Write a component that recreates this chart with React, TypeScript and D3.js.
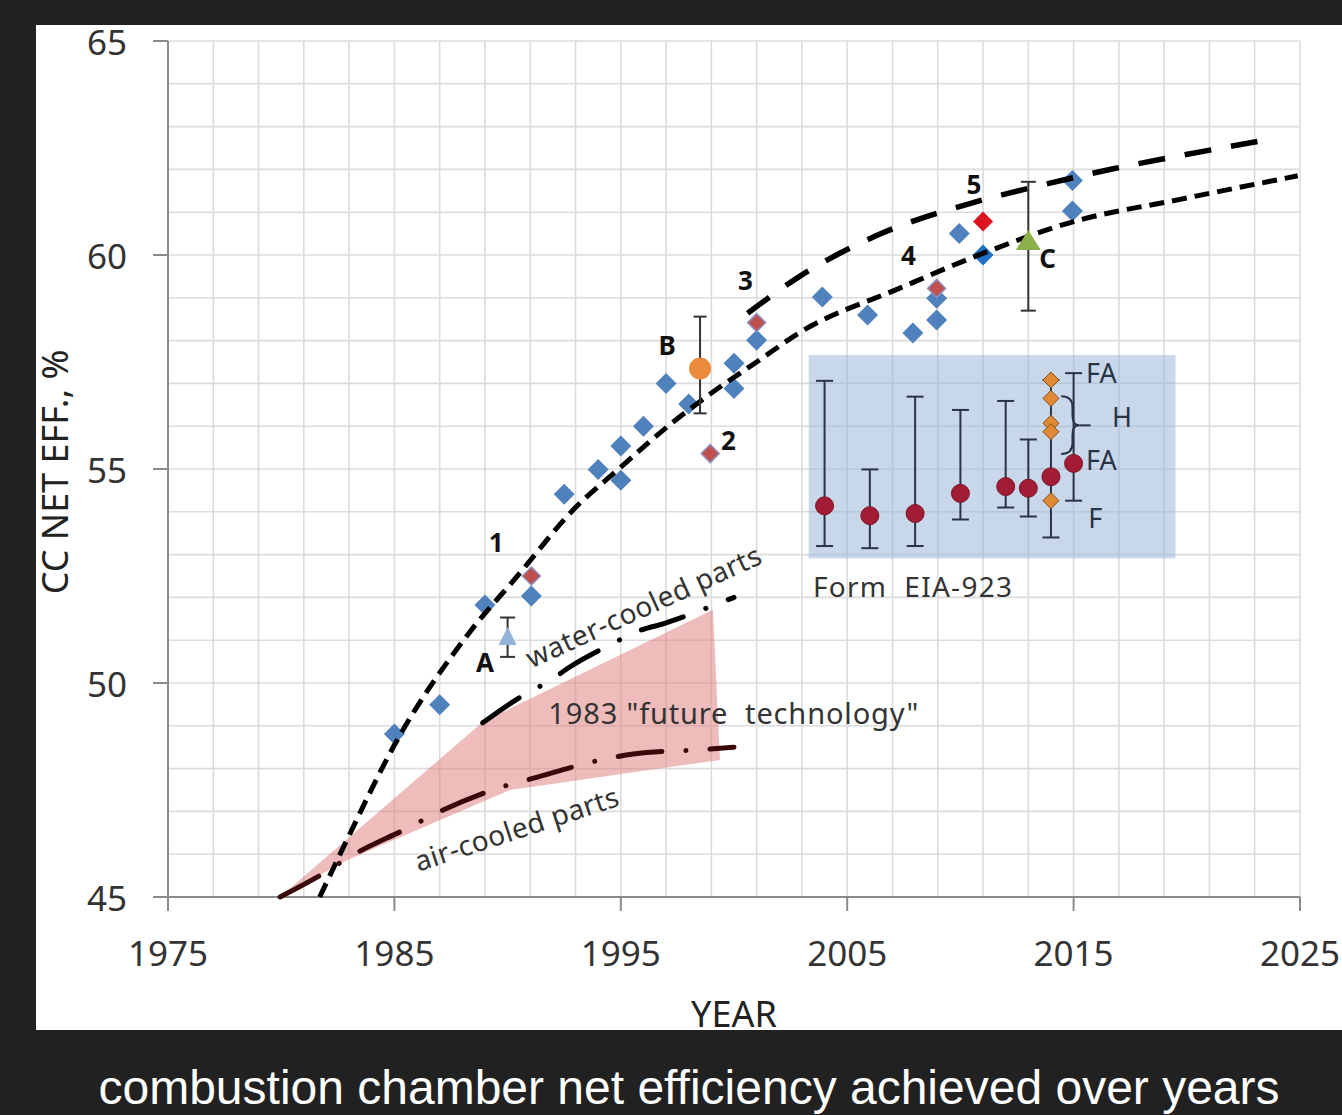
import React from 'react';
import * as d3 from 'd3';

type Pt = [number, number];

// Axis ticks
const yearTicks = [1975, 1985, 1995, 2005, 2015, 2025];
const effTicks = [45, 50, 55, 60, 65];

// Individual plants (year, net efficiency %)
const blueDiamonds: Pt[] = [
  [1985.0, 48.81], [1987.0, 49.49], [1989.0, 51.82], [1991.05, 52.03],
  [1992.5, 54.41], [1994.0, 54.99], [1995.0, 54.74], [1995.0, 55.54],
  [1996.0, 56.0], [1997.0, 57.0], [1998.0, 56.52], [2000.0, 57.47],
  [2000.0, 56.88], [2001.0, 58.01], [2003.9, 59.02], [2005.9, 58.6],
  [2007.9, 58.18], [2008.95, 58.48], [2008.95, 58.99], [2009.95, 60.5],
  [2014.95, 61.74], [2014.95, 61.03],
];
const brightBlueDiamonds: Pt[] = [[2011.0, 60.0]];
const redDiamonds: Pt[] = [[1991.05, 52.5], [1998.95, 55.36], [2001.0, 58.42], [2008.95, 59.22]];
const brightRedDiamonds: Pt[] = [[2011.0, 60.78]];

// Reference points with ranges
const pointA = { year: 1990.0, value: 51.1, lo: 50.61, hi: 51.53 };
const pointB = { year: 1998.5, value: 57.35, lo: 56.3, hi: 58.56 };
const pointC = { year: 2013.0, value: 60.35, lo: 58.7, hi: 61.71 };

// Form EIA-923 fleet statistics
const eiaYears = [2004, 2006, 2008, 2010, 2012, 2013, 2014, 2015];
const eiaMean = [54.14, 53.91, 53.96, 54.43, 54.59, 54.55, 54.82, 55.13];
const eiaHigh = [57.06, 54.99, 56.69, 56.38, 56.59, 55.69, 57.08, 57.24];
const eiaLow = [53.2, 53.15, 53.2, 53.82, 54.1, 53.89, 53.4, 54.26];
const eiaTypeYear = 2014;
const eiaTypeValues = [57.08, 56.65, 56.07, 55.87, 54.26];

// Trend curves
const lowerTrend: Pt[] = [
  [1981.7, 45.0], [1982.9, 46.33], [1985.0, 48.55], [1988.3, 51.17], [1990.4, 52.48],
  [1993.0, 54.1], [1994.8, 54.95], [1997.2, 56.05], [1998.6, 56.62], [2001.0, 57.5],
  [2003.0, 58.22], [2007.3, 59.22], [2011.1, 60.06], [2015.0, 60.78], [2019.7, 61.3],
  [2024.9, 61.85],
];
const upperTrend: Pt[] = [
  [2000.6, 58.64], [2002.9, 59.5], [2006.5, 60.5], [2010.6, 61.23], [2013.5, 61.62],
  [2016.8, 62.02], [2019.7, 62.32], [2023.4, 62.68],
];

// 1983 "future technology" projections
const waterCooled: Pt[] = [
  [1988.9, 49.07], [1990.84, 49.76], [1991.8, 50.03], [1992.76, 50.38], [1994.67, 50.93],
  [1995.7, 51.2], [1996.9, 51.39], [1998.94, 51.78], [2000.0, 52.0],
];
const airCooled: Pt[] = [
  [1979.95, 45.0], [1981.86, 45.55], [1982.9, 45.9], [1985.7, 46.64], [1986.87, 46.96],
  [1989.8, 47.58], [1991.1, 47.77], [1994.1, 48.2], [1995.55, 48.34], [1998.8, 48.45],
  [2000.0, 48.5],
];
const futureBand: Pt[] = [
  [1979.95, 45.0], [1988.9, 49.09], [1999.07, 51.71], [1999.38, 48.2],
  [1997.17, 48.04], [1990.1, 47.5], [1982.9, 45.86],
];

// Numbered plant labels
const numberLabels = [
  { text: '1', year: 1989.5, value: 53.3 },
  { text: '2', year: 1999.75, value: 55.68 },
  { text: '3', year: 2000.5, value: 59.42 },
  { text: '4', year: 2007.7, value: 60.0 },
  { text: '5', year: 2010.6, value: 61.65 },
];

const FONT = "'Noto Sans', 'Open Sans', sans-serif";

function diamond(r: number) {
  return `M0,${-r}L${r},0L0,${r}L${-r},0Z`;
}
function triangle(w: number, h: number) {
  return `M0,${-h / 2}L${w / 2},${h / 2}L${-w / 2},${h / 2}Z`;
}

export default function App() {
  const x = d3.scaleLinear().domain([1975, 2025]).range([168, 1300]);
  const y = d3.scaleLinear().domain([45, 65]).range([897, 41]);

  const gridYears = d3.range(1975, 2025.01, 2);
  const gridEff = d3.range(45, 65.01, 1);

  const smooth = d3.line<Pt>().x(d => x(d[0])).y(d => y(d[1])).curve(d3.curveMonotoneX);
  const poly = d3.line<Pt>().x(d => x(d[0])).y(d => y(d[1]));

  const errBar = (xv: number, lo: number, hi: number, cap: number, color: string, key: string) => (
    <g key={key} stroke={color} strokeWidth={2}>
      <line x1={x(xv)} x2={x(xv)} y1={y(hi)} y2={y(lo)} />
      <line x1={x(xv) - cap / 2} x2={x(xv) + cap / 2} y1={y(hi)} y2={y(hi)} />
      <line x1={x(xv) - cap / 2} x2={x(xv) + cap / 2} y1={y(lo)} y2={y(lo)} />
    </g>
  );

  const x0 = x(1975), x1 = x(2025), y0 = y(45), y1 = y(65);

  return (
    <svg width={1342} height={1115} style={{ position: 'absolute', left: 0, top: 0 }}>
      <rect x={0} y={0} width={1342} height={1115} fill="#212121" />
      <rect x={36} y={25} width={1306} height={1005} fill="#ffffff" />

      {/* grid */}
      <g stroke="#dcdcdc" strokeWidth={1.6}>
        {gridYears.map(v => <line key={'gx' + v} x1={x(v)} x2={x(v)} y1={y1} y2={y0} />)}
        {gridEff.map(v => <line key={'gy' + v} x1={x0} x2={x1} y1={y(v)} y2={y(v)} />)}
      </g>

      {/* EIA-923 panel */}
      <rect x={x(2003.3)} y={y(57.66)} width={x(2019.5) - x(2003.3)} height={y(52.91) - y(57.66)}
        fill="#95B3D7" opacity={0.52} />

      {/* 1983 projection band */}
      <path d={poly(futureBand) + 'Z'} fill="#E07A7A" opacity={0.5} />

      {/* axes */}
      <g stroke="#8a8a8a" strokeWidth={2}>
        <line x1={x0} x2={x0} y1={y1} y2={y0} />
        <line x1={x0} x2={x1} y1={y0} y2={y0} />
        {effTicks.map(v => <line key={'ty' + v} x1={x0 - 15} x2={x0} y1={y(v)} y2={y(v)} />)}
        {yearTicks.map(v => <line key={'tx' + v} x1={x(v)} x2={x(v)} y1={y0} y2={y0 + 14} />)}
      </g>
      <g fontFamily={FONT} fontSize={35} fill="#333">
        {effTicks.map(v => (
          <text key={'ly' + v} x={127} y={y(v)} textAnchor="end" dominantBaseline="central">{v}</text>
        ))}
        {yearTicks.map(v => (
          <text key={'lx' + v} x={x(v)} y={966} textAnchor="middle">{v}</text>
        ))}
      </g>
      <text x={734} y={1027} textAnchor="middle" fontFamily={FONT} fontSize={36} fill="#222">YEAR</text>
      <text transform="translate(68,472) rotate(-90)" textAnchor="middle" fontFamily={FONT} fontSize={36} fill="#222">
        CC NET EFF., %
      </text>

      {/* plant markers */}
      {blueDiamonds.map((d, i) => (
        <path key={'b' + i} d={diamond(10.5)} transform={`translate(${x(d[0])},${y(d[1])})`} fill="#4F81BD" />
      ))}
      {brightBlueDiamonds.map((d, i) => (
        <path key={'bb' + i} d={diamond(10.5)} transform={`translate(${x(d[0])},${y(d[1])})`} fill="#1F6FC4" />
      ))}
      {redDiamonds.map((d, i) => (
        <path key={'r' + i} d={diamond(9)} transform={`translate(${x(d[0])},${y(d[1])})`} fill="#C0504D" stroke="#8C8FC0" strokeWidth={1.5} />
      ))}
      {brightRedDiamonds.map((d, i) => (
        <path key={'rr' + i} d={diamond(10)} transform={`translate(${x(d[0])},${y(d[1])})`} fill="#DD1420" />
      ))}

      {/* trend curves */}
      <path d={smooth(lowerTrend) || ''} fill="none" stroke="#000" strokeWidth={5} strokeDasharray="15 8" />
      <path d={smooth(upperTrend) || ''} fill="none" stroke="#000" strokeWidth={5.5} strokeDasharray="27 20" />
      <path d={smooth(waterCooled) || ''} fill="none" stroke="#000" strokeWidth={5} strokeDasharray="44 24 0.1 24" strokeLinecap="round" />
      <path d={smooth(airCooled) || ''} fill="none" stroke="#3a0808" strokeWidth={5} strokeDasharray="44 24 0.1 24" strokeLinecap="round" />

      {/* reference points */}
      {errBar(pointA.year, pointA.lo, pointA.hi, 15, '#333', 'ea')}
      <path d={triangle(18, 18)} transform={`translate(${x(pointA.year)},${y(pointA.value)})`} fill="#95B3D7" />
      {errBar(pointB.year, pointB.lo, pointB.hi, 13, '#333', 'eb')}
      <circle cx={x(pointB.year)} cy={y(pointB.value)} r={11} fill="#EB8B3C" />
      {errBar(pointC.year, pointC.lo, pointC.hi, 15, '#333', 'ec')}
      <path d={triangle(25, 20)} transform={`translate(${x(pointC.year)},${y(pointC.value)})`} fill="#8DB14A" />

      {/* EIA-923 statistics */}
      {eiaYears.map((yr, i) => errBar(yr, eiaLow[i], eiaHigh[i], 17, '#2a3345', 'ee' + i))}
      {eiaYears.map((yr, i) => (
        <circle key={'ec' + i} cx={x(yr)} cy={y(eiaMean[i])} r={9} fill="#A21C36" stroke="#7d1528" strokeWidth={1} />
      ))}
      {eiaTypeValues.map((v, i) => (
        <path key={'eo' + i} d={diamond(8)} transform={`translate(${x(eiaTypeYear)},${y(v)})`} fill="#E08A35" stroke="#8a4a12" strokeWidth={1} />
      ))}
      <path
        d={`M${x(2014.45)},${y(56.7)} Q${x(2014.95)},${y(56.7)} ${x(2014.95)},${y(56.45)} L${x(2014.95)},${y(56.25)} Q${x(2014.95)},${y(56.02)} ${x(2015.25)},${y(56.02)} Q${x(2014.95)},${y(56.02)} ${x(2014.95)},${y(55.8)} L${x(2014.95)},${y(55.6)} Q${x(2014.95)},${y(55.35)} ${x(2014.45)},${y(55.35)}`}
        fill="none" stroke="#2a3345" strokeWidth={2}
      />
      <line x1={x(2015.25)} x2={x(2015.75)} y1={y(56.02)} y2={y(56.02)} stroke="#2a3345" strokeWidth={2} />
      <g fontFamily={FONT} fontSize={27} fill="#2a3345">
        <text x={x(2015.55)} y={y(57.0)}>FA</text>
        <text x={x(2016.7)} y={y(55.98)}>H</text>
        <text x={x(2015.55)} y={y(54.98)}>FA</text>
        <text x={x(2015.65)} y={y(53.62)}>F</text>
      </g>
      <text x={x(2003.49)} y={y(52.0)} fontFamily={FONT} fontSize={28} fill="#333"
        textLength={199} lengthAdjust="spacing" style={{ whiteSpace: 'pre' }}>Form  EIA-923</text>

      {/* projection labels */}
      <g fontFamily={FONT} fill="#333">
        <text transform={`translate(${x(1991.06)},${y(50.34)}) rotate(-24.5)`} fontSize={28}
          textLength={255} lengthAdjust="spacing">water-cooled parts</text>
        <text transform={`translate(${x(1986.06)},${y(45.59)}) rotate(-18.2)`} fontSize={28}
          textLength={213} lengthAdjust="spacing">air-cooled parts</text>
        <text x={x(1991.8)} y={y(49.05)} fontSize={29} textLength={370} lengthAdjust="spacing"
          style={{ whiteSpace: 'pre' }}>1983 "future  technology"</text>
      </g>

      {/* point labels */}
      <g fontFamily={FONT} fontWeight={700} fontSize={26} fill="#111" dominantBaseline="central" textAnchor="middle">
        {numberLabels.map(l => (
          <text key={'n' + l.text} x={x(l.year)} y={y(l.value)}>{l.text}</text>
        ))}
        <text x={x(1989.0)} y={y(50.5)}>A</text>
        <text x={x(1997.05)} y={y(57.9)}>B</text>
        <text x={x(2013.85)} y={y(59.92)}>C</text>
      </g>

      <text x={689} y={1104} textAnchor="middle" fill="#ffffff" fontFamily="'Liberation Sans', Arial, sans-serif" fontSize={48}>
        combustion chamber net efficiency achieved over years
      </text>
    </svg>
  );
}
